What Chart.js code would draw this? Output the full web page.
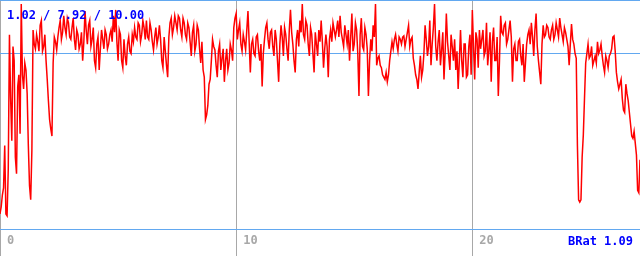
<!DOCTYPE html>
<html>
<head>
<meta charset="utf-8">
<script src="https://cdn.jsdelivr.net/npm/chart.js@4"></script>
<style>
    html, body { margin: 0; padding: 0; background: #fff; }
    #caixa { width: 640px; height: 256px; position: relative; }
</style>
</head>
<body>
<div id="caixa"><canvas id="grafico_brat"></canvas></div>
<script>
//? serie, um ponto a cada 0.05 no eixo x
const passo = 0.05;
const valores = [
    1.1, 1.4, 1.9, 2.2, 4.0, 1.1, 1.02, 3.0, 8.7, 6.0,
    4.2, 8.2, 7.6, 3.5, 2.8, 6.5, 7.0, 4.5, 10.0, 7.0,
    6.4, 7.5, 7.2, 6.2, 4.0, 2.3, 1.7, 3.8, 8.9, 8.3,
    8.1, 8.7, 8.4, 8.0, 9.1, 9.3, 8.0, 8.2, 8.7, 7.6,
    6.8, 5.9, 5.1, 4.7, 4.4, 7.5, 8.6, 8.4, 8.05, 8.6,
    9.0, 9.3, 8.5, 8.8, 9.5, 9.0, 8.7, 9.4, 9.2, 8.6,
    8.5, 9.0, 9.4, 8.5, 8.05, 8.9, 8.7, 8.1, 8.3, 8.8,
    7.6, 8.4, 9.7, 8.9, 8.3, 9.1, 9.3, 8.2, 8.5, 9.0,
    7.6, 7.3, 8.3, 8.6, 7.2, 8.1, 8.9, 8.5, 8.1, 8.9,
    8.7, 8.1, 8.3, 8.7, 8.9, 8.4, 9.5, 8.8, 9.75, 8.4,
    7.6, 8.9, 8.7, 7.6, 7.3, 8.5, 7.8, 7.4, 8.3, 8.6,
    8.0, 7.9, 8.7, 8.4, 9.0, 8.6, 8.5, 9.2, 9.1, 8.4,
    8.7, 9.3, 9.0, 8.5, 9.3, 8.6, 8.5, 9.2, 8.9, 8.4,
    8.05, 8.6, 9.0, 8.3, 8.6, 9.1, 8.5, 7.6, 7.3, 8.6,
    8.0, 7.4, 6.9, 8.6, 9.2, 9.4, 8.7, 9.0, 9.5, 9.2,
    8.9, 9.5, 9.4, 8.9, 8.6, 9.4, 9.2, 8.7, 8.5, 9.2,
    9.0, 8.4, 7.8, 8.8, 9.1, 8.0, 8.3, 9.1, 8.9, 8.1,
    7.5, 8.4, 7.2, 6.9, 5.1, 5.3, 5.7, 6.6, 6.8, 7.6,
    8.5, 8.2, 8.05, 7.4, 6.9, 8.0, 8.3, 7.2, 7.7, 8.1,
    6.7, 7.6, 8.1, 7.2, 7.5, 8.3, 8.05, 7.6, 9.0, 9.4,
    9.6, 8.5, 8.9, 9.2, 8.3, 8.0, 8.7, 8.4, 8.05, 8.9,
    9.7, 8.4, 7.1, 8.3, 8.5, 7.9, 7.8, 8.6, 8.7, 8.0,
    7.6, 8.3, 6.5, 7.9, 8.5, 9.0, 9.2, 8.5, 8.1, 8.8,
    8.9, 8.2, 7.8, 8.9, 8.5, 7.6, 6.7, 8.3, 9.1, 8.6,
    7.8, 9.0, 8.7, 8.1, 7.6, 8.9, 9.75, 8.8, 8.3, 7.6,
    7.1, 8.5, 8.9, 8.2, 9.3, 8.8, 10.0, 8.7, 8.5, 9.3,
    9.1, 8.3, 7.8, 9.0, 8.7, 7.9, 7.1, 8.8, 8.3, 7.8,
    8.9, 8.4, 9.3, 8.4, 7.3, 8.1, 8.7, 8.2, 6.9, 8.5,
    8.9, 8.4, 9.2, 8.9, 8.6, 8.9, 9.3, 8.6, 9.5, 8.8,
    8.5, 8.2, 9.1, 8.7, 8.3, 8.9, 7.6, 8.6, 9.6, 8.0,
    8.3, 9.2, 8.9, 7.9, 6.1, 8.7, 9.4, 8.2, 8.05, 9.0,
    8.7, 8.1, 6.1, 7.6, 8.5, 8.0, 9.1, 8.6, 10.0, 7.4,
    7.7, 7.8, 7.4, 7.3, 7.0, 6.9, 6.8, 7.1, 6.7, 7.0,
    7.6, 8.0, 8.4, 8.1, 8.5, 8.7, 8.3, 8.0, 8.6, 8.5,
    8.3, 8.6, 8.65, 8.2, 8.5, 8.8, 9.1, 8.2, 8.5, 8.6,
    7.7, 7.4, 7.0, 6.8, 6.4, 7.1, 7.8, 6.9, 7.2, 7.9,
    9.1, 8.5, 7.8, 8.2, 9.3, 7.4, 8.3, 9.0, 10.0, 8.2,
    7.6, 8.4, 8.9, 7.4, 8.05, 8.8, 6.8, 8.0, 9.6, 8.4,
    7.8, 7.2, 8.7, 8.2, 7.6, 8.5, 7.2, 8.0, 6.4, 7.6,
    8.9, 7.6, 6.9, 8.3, 8.3, 6.9, 7.0, 8.2, 8.7, 7.0,
    9.75, 8.2, 6.8, 8.8, 8.5, 7.3, 8.9, 8.1, 8.5, 8.9,
    7.8, 8.0, 9.2, 7.4, 8.05, 8.8, 6.7, 8.4, 9.0, 7.6,
    7.6, 8.6, 6.1, 7.6, 9.5, 8.8, 8.7, 9.1, 9.2, 8.3,
    8.5, 8.9, 9.3, 8.6, 6.7, 8.1, 8.3, 7.6, 7.6, 8.4,
    8.5, 7.8, 7.4, 8.3, 6.7, 7.5, 8.3, 8.7, 8.9, 8.3,
    9.2, 8.6, 7.8, 8.9, 9.6, 8.2, 7.6, 7.1, 6.6, 8.3,
    9.1, 8.6, 8.7, 9.1, 9.0, 8.6, 8.5, 8.9, 9.1, 8.5,
    8.7, 9.2, 8.9, 8.6, 9.4, 9.0, 8.7, 8.4, 9.0, 8.8,
    8.5, 8.2, 7.4, 8.3, 9.15, 8.5, 8.3, 7.9, 7.7, 4.0,
    1.7, 1.6, 1.7, 3.5, 4.45, 6.0, 7.5, 7.9, 8.3, 7.7,
    7.8, 8.2, 7.4, 7.6, 7.8, 7.5, 8.4, 7.9, 8.05, 8.3,
    7.8, 7.4, 7.1, 7.8, 7.6, 7.3, 7.8, 7.9, 8.1, 8.6,
    8.65, 8.0, 7.1, 6.7, 6.4, 6.6, 6.8, 6.0, 5.5, 5.4,
    6.6, 6.2, 5.9, 5.4, 4.9, 4.4, 4.3, 4.6, 4.1, 3.6,
    2.1, 2.0, 3.4,
];

const ticks_x = [0, 10, 20];
const x_max = 27.1;
const y_min = 0.46;
const y_max = 10.17;

//! min / media / max e o BRat mostrados no canto
const resumo = [1.02, 7.92, 10.0];
const brat = 1.09;

const pontos = valores.map((v, i) => ({ x: i * passo, y: v }));

const azul_linha = "#62a8f0";
const cinza = "#a8a8a8";

const textos = {
    id: "textos",
    afterDraw(chart) {
        const ctx = chart.ctx;
        ctx.save();
        ctx.font = 'bold 12px "DejaVu Sans Mono"';
        ctx.fillStyle = "#0000ff";
        ctx.textBaseline = "alphabetic";
        ctx.textAlign = "left";
        ctx.fillText(resumo.map((v) => v.toFixed(2)).join(" / "), 7, 19);
        ctx.textAlign = "right";
        ctx.fillText("BRat " + brat.toFixed(2), 633, 245);
        ctx.restore();
    },
};

new Chart("grafico_brat", {
    type: "line",
    data: {
        datasets: [
            {
                data: pontos,
                borderColor: "#ff0000",
                borderWidth: 1.5,
                pointRadius: 0,
                tension: 0,
                fill: false,
            },
        ],
    },
    options: {
        responsive: true,
        maintainAspectRatio: false,
        animation: false,
        layout: { padding: 0 },
        plugins: {
            legend: { display: false },
            tooltip: { enabled: false },
        },
        scales: {
            x: {
                type: "linear",
                min: 0,
                max: x_max,
                afterBuildTicks: (scale) => {
                    scale.ticks = ticks_x.map((v) => ({ value: v }));
                },
                afterFit: (scale) => {
                    scale.height = 27;
                    scale.paddingLeft = 0;
                    scale.paddingRight = 0;
                },
                border: { display: false },
                grid: {
                    color: cinza,
                    lineWidth: 1,
                    drawTicks: true,
                    tickLength: 27,
                    tickColor: cinza,
                },
                ticks: {
                    align: "start",
                    labelOffset: 7,
                    padding: -22.7,
                    color: cinza,
                    font: { family: "DejaVu Sans Mono", size: 12, weight: "bold" },
                    maxRotation: 0,
                    callback: (v) => String(v),
                },
            },
            y: {
                min: y_min,
                max: y_max,
                afterBuildTicks: (scale) => {
                    scale.ticks = [y_min, resumo[1], y_max].map((v) => ({ value: v }));
                },
                afterFit: (scale) => {
                    scale.width = 0;
                },
                border: { display: false },
                grid: {
                    color: azul_linha,
                    lineWidth: 1,
                    drawTicks: false,
                },
                ticks: { display: false },
            },
        },
    },
    plugins: [textos],
});
</script>
</body>
</html>
